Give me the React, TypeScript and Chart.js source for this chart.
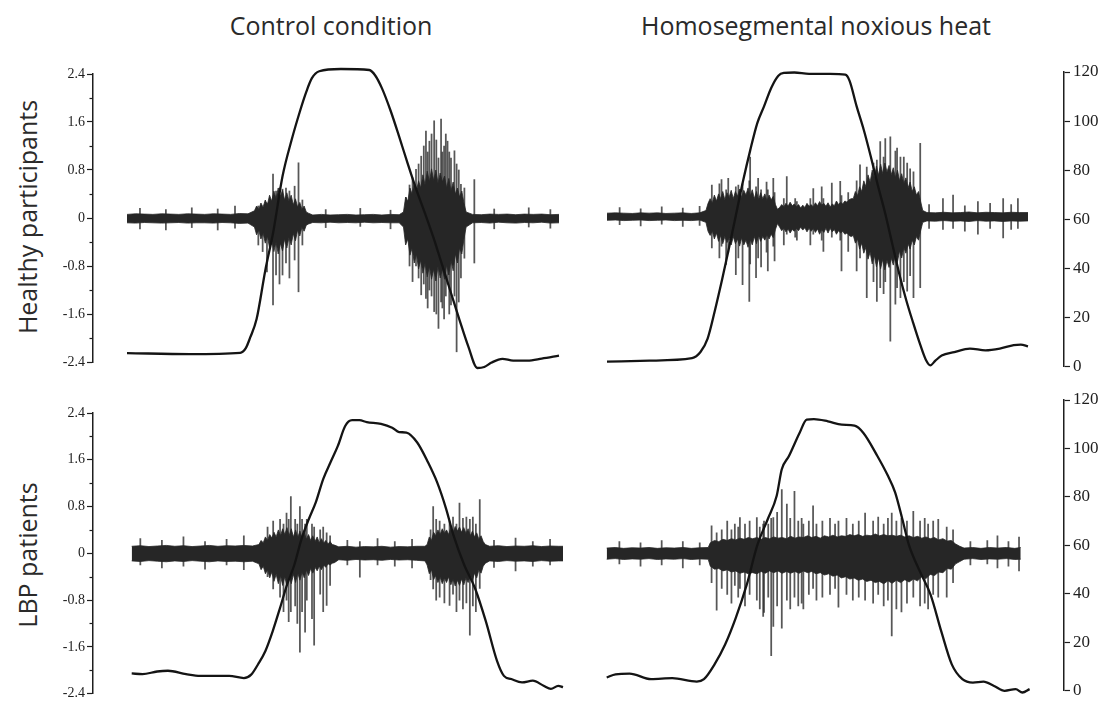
import React, { useEffect, useRef } from "react";
import { Chart, registerables } from "chart.js";

Chart.register(...registerables);

// ---- Axis ticks and captions ----
const EMG_TICKS = [-2.4, -1.6, -0.8, 0, 0.8, 1.6, 2.4];
const EMG_MINOR_TICKS = [-2.0, -1.2, -0.4, 0.4, 1.2, 2.0];
const ANGLE_TICKS = [0, 20, 40, 60, 80, 100, 120];
const COLUMN_TITLES = ["Control condition", "Homosegmental noxious heat"];
const ROW_TITLES = ["Healthy participants", "LBP patients"];

// ---- Healthy participants, control condition ----
const TL_ANGLE_T = [0, 14.5, 26.2, 27.5, 28.5, 30, 32, 33.9, 36, 38.1, 40, 41.5, 42.8, 44.5, 49.5, 56.1, 57.5, 59, 61, 63, 65, 67, 69, 71, 73, 75, 77, 79, 81.1, 82.7, 84.4, 86.9, 89.4, 92.7, 96.0, 100];
const TL_ANGLE = [6.8, 6.4, 6.9, 8.8, 13, 20.5, 40, 56, 78, 92.6, 104, 112, 117.5, 120.3, 121.2, 120.8, 118.5, 113.5, 104.5, 94, 83, 72.5, 63, 53, 42, 31, 20, 9.5, 0.8, 1.2, 3.0, 4.5, 3.8, 3.8, 4.6, 5.8];
const TL_EMG_T = [0, 2, 4, 6, 8, 10, 12, 14, 16, 18, 20, 22, 24, 26, 28,
  29.5, 30, 30.5, 31, 31.5, 32, 32.5, 33, 33.5, 34, 34.5, 35, 35.5, 36, 36.5, 37, 37.5, 38, 38.5, 39, 39.5, 40, 40.5, 41, 41.5, 42,
  43, 45, 47, 49, 51, 53, 55, 57, 59, 61, 63,
  64, 64.5, 65, 65.5, 66, 66.5, 67, 67.5, 68, 68.5, 69, 69.5, 70, 70.5, 71, 71.5, 72, 72.5, 73, 73.5, 74, 74.5, 75, 75.5, 76, 76.5, 77, 77.5, 78, 78.5,
  80, 82, 84, 86, 88, 90, 92, 94, 96, 98, 100];
const TL_EMG_HI = [0.06, 0.07, 0.065, 0.06, 0.07, 0.065, 0.06, 0.07, 0.065, 0.06, 0.07, 0.065, 0.06, 0.075, 0.07,
  0.12, 0.2, 0.14, 0.25, 0.18, 0.3, 0.22, 0.38, 0.28, 0.45, 0.32, 0.5, 0.36, 0.46, 0.3, 0.42, 0.28, 0.38, 0.22, 0.32, 0.18, 0.26, 0.14, 0.2, 0.1, 0.08,
  0.05, 0.06, 0.05, 0.055, 0.06, 0.05, 0.055, 0.06, 0.05, 0.06, 0.055,
  0.1, 0.35, 0.28, 0.5, 0.4, 0.6, 0.45, 0.62, 0.5, 0.72, 0.55, 0.78, 0.6, 0.82, 0.62, 0.8, 0.58, 0.75, 0.6, 0.7, 0.5, 0.66, 0.45, 0.6, 0.4, 0.5, 0.35, 0.45, 0.25, 0.1,
  0.06, 0.055, 0.065, 0.06, 0.065, 0.055, 0.065, 0.06, 0.065, 0.055, 0.06];
const TL_EMG_LO = [-0.08, -0.085, -0.075, -0.08, -0.085, -0.08, -0.075, -0.085, -0.08, -0.08, -0.085, -0.075, -0.08, -0.09, -0.085,
  -0.15, -0.28, -0.2, -0.35, -0.25, -0.42, -0.3, -0.5, -0.36, -0.56, -0.4, -0.6, -0.42, -0.55, -0.35, -0.5, -0.32, -0.45, -0.26, -0.38, -0.2, -0.3, -0.15, -0.22, -0.12, -0.1,
  -0.075, -0.08, -0.07, -0.08, -0.075, -0.08, -0.07, -0.08, -0.075, -0.08, -0.08,
  -0.15, -0.45, -0.35, -0.62, -0.5, -0.75, -0.6, -0.85, -0.7, -0.92, -0.75, -0.98, -0.8, -1.02, -0.85, -1.05, -0.8, -1.0, -0.85, -1.02, -0.78, -0.95, -0.7, -0.88, -0.6, -0.75, -0.5, -0.6, -0.35, -0.15,
  -0.08, -0.075, -0.085, -0.07, -0.08, -0.085, -0.075, -0.08, -0.07, -0.085, -0.08];
const TL_SPIKE_T = [3, 9, 15, 21, 25, 30.4, 31.4, 32.4, 33.8, 34.5, 35.3, 36, 36.8, 37.6, 38.8, 39.7, 40.6, 46, 54, 61, 64.6, 66.1, 66.9, 68.1, 69.2, 70, 71.1, 72.1, 72.7, 73.4, 74.2, 75, 75.8, 76.3, 77.3, 78.1, 80.4, 85, 93, 98, 65.4, 67.5, 68.7, 69.6, 70.5, 71.6, 73.0, 73.8, 74.6, 76.8];
const TL_SPIKE_HI = [0.16, 0.14, 0.17, 0.15, 0.2, 0.2, 0.15, 0.25, 0.73, 0.45, 0.5, 0.48, 0.5, 0.45, 0.53, 0.92, 0.3, 0.14, 0.16, 0.13, 0.34, 0.67, 0.81, 1.03, 1.45, 1.28, 1.62, 1.0, 1.65, 1.2, 1.28, 1.0, 1.12, 0.9, 0.56, 0.5, 0.64, 0.15, 0.17, 0.14, 0.55, 0.9, 1.2, 1.1, 1.4, 1.3, 1.1, 1.4, 1.1, 0.8];
const TL_SPIKE_LO = [-0.18, -0.2, -0.16, -0.2, -0.17, -0.45, -0.56, -0.9, -1.45, -0.95, -1.1, -0.95, -0.75, -1.0, -0.7, -1.23, -0.45, -0.16, -0.14, -0.18, -0.39, -1.06, -0.8, -1.28, -1.34, -1.2, -1.56, -1.84, -1.4, -1.68, -1.1, -1.45, -1.3, -2.23, -1.0, -0.67, -0.75, -0.18, -0.15, -0.17, -0.8, -1.0, -1.1, -1.5, -1.3, -1.6, -1.5, -1.3, -1.6, -1.4];

// ---- Healthy participants, homosegmental noxious heat ----
const TR_ANGLE_T = [0, 10.1, 20.2, 22.2, 23.9, 25.6, 27.3, 28.9, 30.6, 32.3, 34, 35.7, 37.3, 39, 40.7, 42, 44.5, 48, 53, 56.6, 57.6, 59.3, 61, 62.7, 64.3, 66, 67.7, 69.4, 71.1, 72.7, 74.4, 75.7, 76.8, 78, 79.5, 82.5, 86.2, 89.9, 93.3, 96.6, 98.3, 100];
const TR_ANGLE = [2.1, 2.5, 3.5, 6, 11.5, 22.7, 35.2, 47.7, 61.6, 75.5, 88, 99.2, 106, 113.5, 118.5, 119.6, 119.8, 119.2, 119.2, 118.9, 116.5, 106, 96.4, 85.3, 74.1, 63, 50.5, 38, 27, 18, 9, 3, 0.6, 2.5, 4.6, 6, 7.4, 6.7, 7.4, 8.8, 9, 8.3];
const TR_EMG_T = [0, 2, 4, 6, 8, 10, 12, 14, 16, 18, 20, 22,
  23.5, 24, 24.5, 25, 25.5, 26, 26.5, 27, 27.5, 28, 28.5, 29, 29.5, 30, 30.5, 31, 31.5, 32, 32.5, 33, 33.5, 34, 34.5, 35, 35.5, 36, 36.5, 37, 37.5, 38, 38.5, 39, 39.5, 40, 40.5,
  41, 41.5, 42, 42.5, 43, 43.5, 44, 44.5, 45, 45.5, 46, 46.5, 47, 47.5, 48, 48.5, 49, 49.5, 50, 50.5, 51, 51.5, 52, 52.5, 53, 53.5, 54, 54.5, 55, 55.5, 56, 56.5, 57, 57.5, 58,
  58.5, 59, 59.5, 60, 60.5, 61, 61.5, 62, 62.5, 63, 63.5, 64, 64.5, 65, 65.5, 66, 66.5, 67, 67.5, 68, 68.5, 69, 69.5, 70, 70.5, 71, 71.5, 72, 72.5, 73, 73.5, 74, 74.5, 75,
  76, 78, 80, 82, 84, 86, 88, 90, 92, 94, 96, 98, 100];
const TR_EMG_HI = [0.055, 0.06, 0.055, 0.05, 0.06, 0.055, 0.06, 0.05, 0.055, 0.06, 0.05, 0.06,
  0.1, 0.22, 0.3, 0.22, 0.36, 0.26, 0.38, 0.3, 0.42, 0.28, 0.4, 0.32, 0.44, 0.3, 0.42, 0.34, 0.46, 0.32, 0.44, 0.36, 0.48, 0.34, 0.45, 0.3, 0.42, 0.28, 0.4, 0.3, 0.38, 0.26, 0.36, 0.28, 0.34, 0.2, 0.12,
  0.15, 0.2, 0.16, 0.22, 0.17, 0.24, 0.18, 0.21, 0.16, 0.2, 0.14, 0.19, 0.15, 0.22, 0.17, 0.2, 0.16, 0.23, 0.18, 0.25, 0.19, 0.22, 0.17, 0.23, 0.16, 0.21, 0.18, 0.26, 0.2, 0.24, 0.21, 0.26, 0.24, 0.28, 0.3,
  0.3, 0.42, 0.35, 0.5, 0.42, 0.6, 0.5, 0.7, 0.58, 0.78, 0.65, 0.85, 0.7, 0.88, 0.72, 0.9, 0.75, 0.86, 0.7, 0.82, 0.65, 0.78, 0.6, 0.72, 0.55, 0.65, 0.48, 0.58, 0.42, 0.5, 0.36, 0.42, 0.25, 0.1,
  0.065, 0.06, 0.07, 0.06, 0.065, 0.075, 0.06, 0.07, 0.065, 0.06, 0.07, 0.065, 0.065];
const TR_EMG_LO = [-0.065, -0.06, -0.07, -0.065, -0.06, -0.07, -0.065, -0.06, -0.07, -0.065, -0.07, -0.06,
  -0.1, -0.25, -0.32, -0.24, -0.38, -0.28, -0.42, -0.32, -0.46, -0.34, -0.44, -0.36, -0.48, -0.34, -0.46, -0.38, -0.5, -0.36, -0.48, -0.4, -0.52, -0.38, -0.48, -0.34, -0.46, -0.32, -0.42, -0.34, -0.4, -0.3, -0.38, -0.3, -0.36, -0.22, -0.12,
  -0.18, -0.24, -0.2, -0.26, -0.21, -0.28, -0.22, -0.25, -0.2, -0.24, -0.18, -0.23, -0.19, -0.26, -0.2, -0.25, -0.2, -0.27, -0.21, -0.3, -0.22, -0.27, -0.2, -0.28, -0.2, -0.26, -0.22, -0.3, -0.24, -0.28, -0.25, -0.3, -0.28, -0.32, -0.34,
  -0.32, -0.45, -0.38, -0.55, -0.45, -0.62, -0.52, -0.72, -0.6, -0.8, -0.66, -0.85, -0.7, -0.88, -0.72, -0.9, -0.74, -0.86, -0.7, -0.82, -0.64, -0.76, -0.58, -0.7, -0.52, -0.62, -0.46, -0.55, -0.4, -0.48, -0.34, -0.4, -0.24, -0.1,
  -0.075, -0.08, -0.07, -0.08, -0.075, -0.085, -0.07, -0.08, -0.075, -0.085, -0.075, -0.08, -0.075];
const TR_SPIKE_T = [3, 8, 13, 18, 22, 24.9, 26.7, 27.2, 28.3, 28.8, 30.6, 31.2, 32.2, 33.8, 34, 35.4, 35.9, 36.6, 37.9, 38.2, 39.5, 39.8, 42, 42.7, 44.7, 45.1, 48.3, 49, 51, 51.4, 53.4, 55.4, 55.7, 57.3, 59.3, 60.1, 61.7, 63.3, 64.1, 64.9, 65.7, 66.1, 67.3, 68.5, 68.9, 69.7, 70.5, 71.3, 72, 72.8, 74.4, 76.5, 79.8, 82.2, 85, 88.1, 91, 94.1, 96, 97.6];
const TR_SPIKE_HI = [0.15, 0.13, 0.16, 0.14, 0.17, 0.53, 0.55, 0.62, 0.45, 0.64, 0.5, 0.53, 0.55, 0.6, 1.0, 0.5, 0.64, 0.45, 0.58, 0.45, 0.64, 0.4, 0.3, 0.67, 0.3, 0.25, 0.3, 0.47, 0.5, 0.3, 0.56, 0.59, 0.35, 0.4, 0.6, 0.87, 0.83, 0.9, 0.95, 1.26, 1.0, 1.31, 1.34, 1.1, 1.15, 1.0, 1.0, 0.9, 0.8, 0.75, 1.23, 0.2, 0.3, 0.36, 0.18, 0.25, 0.22, 0.3, 0.2, 0.3];
const TR_SPIKE_LO = [-0.14, -0.16, -0.13, -0.17, -0.15, -0.53, -0.7, -0.5, -0.81, -0.6, -0.98, -0.7, -1.15, -1.43, -0.8, -1.03, -0.7, -0.85, -0.6, -0.92, -0.5, -0.75, -0.48, -0.3, -0.35, -0.4, -0.48, -0.3, -0.4, -0.59, -0.35, -0.4, -0.92, -0.59, -0.92, -0.7, -1.37, -1.1, -1.43, -1.2, -1.3, -1.1, -2.1, -1.48, -1.2, -1.37, -1.1, -1.26, -1.0, -1.37, -1.2, -0.2, -0.22, -0.2, -0.25, -0.3, -0.2, -0.36, -0.22, -0.2];

// ---- LBP patients, control condition ----
const BL_ANGLE_T = [0, 2.5, 5.9, 8.4, 12.6, 15.9, 22.6, 26, 27.7, 29.3, 31, 32.7, 34.4, 36, 37.7, 39.4, 41.1, 42.7, 44.4, 46.1, 47.8, 49.5, 51.1, 52.8, 54.5, 57.8, 60.4, 62, 63.7, 66.2, 68.7, 70.8, 72.9, 74.6, 77.1, 79.6, 82.1, 84.7, 86.3, 88, 90.5, 93, 95.5, 97.2, 98.9, 100];
const BL_ANGLE = [7.1, 6.8, 7.9, 8.2, 6.8, 6.1, 6.1, 5.2, 6.6, 10.9, 16.4, 24.6, 34.2, 43.7, 51.9, 62.8, 71, 77.9, 87.4, 94.3, 101.1, 109.3, 111.7, 111.7, 110.9, 110.2, 108.6, 106.8, 106.6, 102.5, 94.3, 86.1, 75.1, 64.2, 51.9, 42.3, 28.7, 12.3, 6.1, 4.8, 3.4, 4.1, 2, 0.7, 2, 1.4];
const BL_EMG_T = [0, 2, 4, 6, 8, 10, 12, 14, 16, 18, 20, 22, 24, 26, 28,
  29.5, 30, 30.5, 31, 31.5, 32, 32.5, 33, 33.5, 34, 34.5, 35, 35.5, 36, 36.5, 37, 37.5, 38, 38.5, 39, 39.5, 40, 40.5, 41, 41.5, 42, 42.5, 43, 43.5, 44, 44.5, 45, 45.5, 46, 46.5, 47,
  48, 50, 52, 54, 56, 58, 60, 62, 64, 66, 68,
  68.5, 69, 69.5, 70, 70.5, 71, 71.5, 72, 72.5, 73, 73.5, 74, 74.5, 75, 75.5, 76, 76.5, 77, 77.5, 78, 78.5, 79, 79.5, 80, 80.5, 81, 81.5, 82,
  83, 85, 87, 89, 91, 93, 95, 97, 99, 100];
const BL_EMG_HI = [0.12, 0.13, 0.115, 0.125, 0.135, 0.12, 0.13, 0.115, 0.125, 0.135, 0.12, 0.13, 0.125, 0.135, 0.125,
  0.15, 0.22, 0.18, 0.28, 0.22, 0.32, 0.26, 0.36, 0.28, 0.4, 0.3, 0.42, 0.32, 0.44, 0.3, 0.42, 0.28, 0.4, 0.27, 0.38, 0.25, 0.35, 0.24, 0.32, 0.22, 0.3, 0.2, 0.28, 0.18, 0.25, 0.17, 0.22, 0.16, 0.2, 0.15, 0.14,
  0.11, 0.12, 0.105, 0.115, 0.11, 0.12, 0.105, 0.115, 0.11, 0.12, 0.12,
  0.15, 0.28, 0.22, 0.36, 0.3, 0.4, 0.32, 0.42, 0.34, 0.4, 0.32, 0.44, 0.36, 0.46, 0.38, 0.45, 0.36, 0.44, 0.34, 0.42, 0.3, 0.38, 0.28, 0.35, 0.24, 0.3, 0.2, 0.15,
  0.12, 0.13, 0.115, 0.125, 0.12, 0.13, 0.115, 0.125, 0.12, 0.12];
const BL_EMG_LO = [-0.13, -0.14, -0.125, -0.135, -0.145, -0.13, -0.14, -0.125, -0.135, -0.145, -0.13, -0.14, -0.135, -0.145, -0.135,
  -0.18, -0.28, -0.22, -0.35, -0.28, -0.42, -0.32, -0.48, -0.36, -0.52, -0.38, -0.55, -0.4, -0.56, -0.38, -0.52, -0.36, -0.5, -0.34, -0.46, -0.32, -0.42, -0.28, -0.38, -0.26, -0.34, -0.24, -0.3, -0.22, -0.28, -0.2, -0.24, -0.18, -0.2, -0.17, -0.16,
  -0.11, -0.12, -0.105, -0.115, -0.11, -0.12, -0.105, -0.115, -0.11, -0.12, -0.13,
  -0.2, -0.35, -0.28, -0.45, -0.38, -0.5, -0.4, -0.52, -0.42, -0.5, -0.4, -0.54, -0.44, -0.56, -0.46, -0.55, -0.44, -0.54, -0.42, -0.5, -0.38, -0.46, -0.34, -0.42, -0.28, -0.34, -0.22, -0.17,
  -0.13, -0.14, -0.125, -0.135, -0.13, -0.14, -0.125, -0.135, -0.13, -0.13];
const BL_SPIKE_T = [2, 7, 12, 17, 22, 26, 31.5, 32.8, 34.4, 35.2, 35.9, 36.4, 36.9, 37.9, 38.4, 39, 39.5, 40.2, 40.6, 41.8, 42.3, 43.7, 44.4, 45.2, 46, 50, 52.9, 57, 61, 65, 69.3, 69.9, 70.6, 71.4, 72.5, 73.7, 74.5, 75.3, 76, 76.8, 77.6, 78.4, 79.1, 79.8, 80.7, 84, 89, 93, 97];
const BL_SPIKE_HI = [0.25, 0.22, 0.28, 0.2, 0.24, 0.3, 0.45, 0.55, 0.58, 0.5, 0.69, 0.58, 0.97, 0.58, 0.5, 0.8, 0.58, 0.5, 0.58, 0.5, 0.45, 0.4, 0.45, 0.35, 0.3, 0.22, 0.2, 0.25, 0.2, 0.24, 0.4, 0.8, 0.58, 0.55, 0.5, 0.55, 0.62, 0.5, 0.86, 0.6, 0.62, 0.58, 0.62, 0.5, 0.92, 0.22, 0.26, 0.2, 0.24];
const BL_SPIKE_LO = [-0.2, -0.25, -0.22, -0.27, -0.2, -0.28, -0.4, -0.61, -0.75, -1.0, -0.8, -1.17, -1.0, -0.9, -1.2, -1.69, -1.0, -1.35, -0.8, -1.12, -1.57, -0.7, -1.0, -0.89, -0.55, -0.2, -0.41, -0.2, -0.22, -0.25, -0.45, -0.61, -0.8, -0.75, -0.85, -0.89, -0.7, -1.0, -0.8, -0.95, -0.85, -1.4, -0.9, -1.0, -0.6, -0.24, -0.3, -0.22, -0.2];

// ---- LBP patients, homosegmental noxious heat ----
const BR_ANGLE_T = [0, 2.1, 5.4, 10.5, 15.5, 21.3, 23, 25.5, 28, 30.5, 33.1, 35.6, 38.1, 40.2, 41.4, 43.1, 45.6, 47.3, 49, 52.3, 55.6, 58.6, 60.7, 64, 66.5, 68.2, 69.9, 71.5, 74.1, 76.6, 79.1, 81.6, 84.1, 86.6, 89.1, 91.6, 94.1, 96.7, 98.3, 100];
const BR_ANGLE = [5.5, 6.8, 7.1, 4.8, 5.2, 3.8, 4.8, 10.9, 19.1, 30, 43.7, 60, 70.9, 80.5, 91.4, 96.9, 106.4, 111.9, 112.1, 111.2, 109.8, 109.4, 106.4, 96.9, 88.7, 81.9, 70.9, 60, 49.1, 39.6, 24.6, 10.9, 4.8, 3.4, 3.8, 2, 0, 0.7, -0.7, 0.7];
const BR_EMG_T = [0, 2, 4, 6, 8, 10, 12, 14, 16, 18, 20, 22, 24,
  24.5, 25.5, 26.5, 27.5, 28.5, 29.5, 30.5, 31.5, 32.5, 33.5, 34.5, 35.5, 36.5, 37.5, 38.5, 39.5, 40.5, 41.5, 42.5, 43.5, 44.5, 45.5, 46.5, 47.5, 48.5, 49.5, 50.5, 51.5, 52.5, 53.5,
  54.5, 55.5, 56.5, 57.5, 58.5, 59.5, 60.5, 61.5, 62.5, 63.5, 64.5, 65.5, 66.5, 67.5, 68.5, 69.5, 70.5, 71.5, 72.5, 73.5, 74.5, 75.5, 76.5, 77.5, 78.5, 79.5, 80.5, 81.5, 82.5, 83.5,
  84.5, 86.5, 88.5, 90.5, 92.5, 94.5, 96.5, 97.9];
const BR_EMG_HI = [0.09, 0.1, 0.085, 0.095, 0.09, 0.1, 0.085, 0.095, 0.09, 0.1, 0.085, 0.095, 0.1,
  0.18, 0.22, 0.2, 0.24, 0.22, 0.25, 0.23, 0.26, 0.24, 0.27, 0.25, 0.27, 0.24, 0.27, 0.25, 0.28, 0.26, 0.27, 0.25, 0.29, 0.26, 0.28, 0.27, 0.3, 0.27, 0.29, 0.26, 0.3, 0.28, 0.31,
  0.28, 0.3, 0.29, 0.32, 0.3, 0.32, 0.29, 0.31, 0.3, 0.33, 0.3, 0.32, 0.3, 0.31, 0.29, 0.31, 0.28, 0.3, 0.27, 0.29, 0.26, 0.28, 0.25, 0.27, 0.23, 0.25, 0.21, 0.22, 0.16, 0.12,
  0.09, 0.1, 0.085, 0.1, 0.09, 0.1, 0.085, 0.1];
const BR_EMG_LO = [-0.1, -0.09, -0.105, -0.095, -0.1, -0.09, -0.105, -0.095, -0.1, -0.09, -0.105, -0.095, -0.1,
  -0.22, -0.27, -0.26, -0.3, -0.28, -0.32, -0.3, -0.34, -0.32, -0.35, -0.33, -0.35, -0.31, -0.34, -0.3, -0.33, -0.3, -0.34, -0.31, -0.34, -0.31, -0.34, -0.3, -0.33, -0.31, -0.35, -0.33, -0.37, -0.35, -0.39,
  -0.37, -0.42, -0.4, -0.44, -0.42, -0.46, -0.44, -0.48, -0.46, -0.5, -0.48, -0.52, -0.47, -0.51, -0.46, -0.5, -0.45, -0.49, -0.44, -0.47, -0.4, -0.43, -0.36, -0.38, -0.32, -0.33, -0.26, -0.27, -0.18, -0.14,
  -0.1, -0.09, -0.105, -0.095, -0.1, -0.09, -0.105, -0.1];
const BR_SPIKE_T = [3, 8, 13, 18, 22, 24.8, 26, 27.2, 28.5, 29.5, 30.3, 31.1, 31.5, 32.7, 33.8, 35.5, 36.2, 37, 37.2, 38.2, 38.9, 39.4, 40.3, 41.4, 42.6, 43.4, 44.4, 45.3, 46.1, 46.5, 47.8, 48.8, 49.6, 51, 52.8, 54, 54.8, 56.7, 58.2, 59.6, 61.1, 63, 64.2, 65.5, 66.5, 67.4, 68.5, 69.7, 71, 72.5, 74.1, 75.2, 76, 77.2, 78.4, 80.4, 81.9, 86, 90, 92.4, 95, 97.5];
const BR_SPIKE_HI = [0.2, 0.18, 0.22, 0.2, 0.18, 0.47, 0.35, 0.4, 0.55, 0.4, 0.5, 0.45, 0.61, 0.5, 0.55, 0.61, 0.45, 0.5, 0.55, 0.5, 0.6, 0.61, 0.7, 1.09, 0.84, 0.6, 1.06, 0.55, 0.6, 0.5, 0.55, 0.81, 0.5, 0.55, 0.6, 0.5, 0.55, 0.6, 0.5, 0.55, 0.69, 0.55, 0.62, 0.5, 0.6, 0.69, 0.55, 0.6, 0.55, 0.72, 0.55, 0.6, 0.5, 0.55, 0.58, 0.45, 0.4, 0.2, 0.22, 0.3, 0.2, 0.28];
const BR_SPIKE_LO = [-0.18, -0.22, -0.2, -0.25, -0.2, -0.5, -0.97, -0.6, -0.7, -0.85, -0.55, -0.75, -0.6, -0.9, -0.7, -0.8, -0.95, -1.08, -1.01, -0.75, -1.75, -1.25, -0.9, -1.28, -0.8, -0.95, -0.75, -0.9, -0.85, -0.95, -0.7, -0.6, -0.8, -0.75, -0.7, -0.6, -0.92, -0.7, -0.8, -0.75, -0.8, -0.85, -0.7, -0.9, -0.8, -1.41, -0.95, -1.0, -0.85, -0.75, -0.9, -0.85, -0.95, -0.7, -0.75, -0.75, -0.5, -0.2, -0.18, -0.25, -0.22, -0.3];

// ---- Styling ----
const INK = "#1e1e1e";
const CURVE_COLOR = "#141414";
const CORE_COLOR = "#262626";
const SPIKE_COLOR = "rgba(45,45,45,0.8)";
const TICK_FONT = '"Liberation Serif", "Times New Roman", serif';
const LABEL_FONT = '"Open Sans", "Noto Sans", sans-serif';

type Box = { left: number; top: number; width: number; height: number };
type Area = { left: number; right: number; top: number; bottom: number };
type Ref = [number, number, number, number]; // value0, pixel0, value1, pixel1

type PanelSpec = {
  id: string;
  box: Box;
  area: Area;
  timeRef: Ref;
  emgRef: Ref;
  angleRef: Ref;
  showEmgAxis: boolean;
  showAngleAxis: boolean;
  angleT: number[];
  angle: number[];
  emgT: number[];
  emgHi: number[];
  emgLo: number[];
  spikeT: number[];
  spikeHi: number[];
  spikeLo: number[];
};

const PANELS: PanelSpec[] = [
  {
    id: "healthy-control",
    box: { left: 0, top: 40, width: 575, height: 340 },
    area: { left: 93, right: 575, top: 74, bottom: 362 },
    timeRef: [0, 127, 100, 559],
    emgRef: [2.4, 74, -2.4, 362],
    angleRef: [120, 72, 0, 370],
    showEmgAxis: true,
    showAngleAxis: false,
    angleT: TL_ANGLE_T, angle: TL_ANGLE,
    emgT: TL_EMG_T, emgHi: TL_EMG_HI, emgLo: TL_EMG_LO,
    spikeT: TL_SPIKE_T, spikeHi: TL_SPIKE_HI, spikeLo: TL_SPIKE_LO,
  },
  {
    id: "healthy-heat",
    box: { left: 590, top: 40, width: 524, height: 340 },
    area: { left: 590, right: 1064, top: 72, bottom: 370 },
    timeRef: [0, 607, 100, 1028],
    emgRef: [2.4, 74, -2.4, 362],
    angleRef: [120, 72, 0, 370],
    showEmgAxis: false,
    showAngleAxis: true,
    angleT: TR_ANGLE_T, angle: TR_ANGLE,
    emgT: TR_EMG_T, emgHi: TR_EMG_HI, emgLo: TR_EMG_LO,
    spikeT: TR_SPIKE_T, spikeHi: TR_SPIKE_HI, spikeLo: TR_SPIKE_LO,
  },
  {
    id: "lbp-control",
    box: { left: 0, top: 385, width: 575, height: 319 },
    area: { left: 93, right: 575, top: 413, bottom: 696 },
    timeRef: [0, 131.7, 100, 563],
    emgRef: [2.4, 413, -2.4, 696],
    angleRef: [120, 400, 0, 693],
    showEmgAxis: true,
    showAngleAxis: false,
    angleT: BL_ANGLE_T, angle: BL_ANGLE,
    emgT: BL_EMG_T, emgHi: BL_EMG_HI, emgLo: BL_EMG_LO,
    spikeT: BL_SPIKE_T, spikeHi: BL_SPIKE_HI, spikeLo: BL_SPIKE_LO,
  },
  {
    id: "lbp-heat",
    box: { left: 590, top: 385, width: 524, height: 319 },
    area: { left: 590, right: 1064, top: 400, bottom: 693 },
    timeRef: [0, 606.7, 100, 1029.6],
    emgRef: [2.4, 413, -2.4, 696],
    angleRef: [120, 400, 0, 693],
    showEmgAxis: false,
    showAngleAxis: true,
    angleT: BR_ANGLE_T, angle: BR_ANGLE,
    emgT: BR_EMG_T, emgHi: BR_EMG_HI, emgLo: BR_EMG_LO,
    spikeT: BR_SPIKE_T, spikeHi: BR_SPIKE_HI, spikeLo: BR_SPIKE_LO,
  },
];

// Values found at two pixel positions, given two (value, pixel) anchors of a linear axis.
function valuesAt(ref: Ref, pa: number, pb: number): [number, number] {
  const [v0, p0, v1, p1] = ref;
  const k = (v1 - v0) / (p1 - p0);
  return [v0 + (pa - p0) * k, v0 + (pb - p0) * k];
}

// Short unlabeled ticks between the labelled EMG ticks.
const minorTickPlugin = {
  id: "minorTicks",
  afterDraw(chart: any) {
    const s = chart.scales.y;
    if (!s || !s.options.display) return;
    const ctx = chart.ctx;
    ctx.save();
    ctx.strokeStyle = INK;
    ctx.lineWidth = 1.2;
    EMG_MINOR_TICKS.forEach((v) => {
      const y = Math.round(s.getPixelForValue(v)) + 0.5;
      ctx.beginPath();
      ctx.moveTo(s.right - 3.5, y);
      ctx.lineTo(s.right, y);
      ctx.stroke();
    });
    ctx.restore();
  },
};

function buildConfig(p: PanelSpec): any {
  const { box, area } = p;
  const [xMin, xMax] = valuesAt(p.timeRef, area.left, area.right);
  const [emgMax, emgMin] = valuesAt(p.emgRef, area.top, area.bottom);
  const [angMax, angMin] = valuesAt(p.angleRef, area.top, area.bottom);
  const emgAxisW = area.left - box.left;
  const angleAxisW = box.left + box.width - area.right;

  return {
    type: "line",
    data: {
      datasets: [
        {
          type: "line",
          label: "EMG upper",
          data: p.emgT.map((t, i) => ({ x: t, y: p.emgHi[i] })),
          borderColor: CORE_COLOR,
          backgroundColor: CORE_COLOR,
          borderWidth: 0.8,
          pointRadius: 0,
          tension: 0,
          fill: "+1",
          yAxisID: "y",
          order: 1,
        },
        {
          type: "line",
          label: "EMG lower",
          data: p.emgT.map((t, i) => ({ x: t, y: p.emgLo[i] })),
          borderColor: CORE_COLOR,
          borderWidth: 0.8,
          pointRadius: 0,
          tension: 0,
          fill: false,
          yAxisID: "y",
          order: 1,
        },
        {
          type: "bar",
          label: "EMG spikes",
          data: p.spikeT.map((t, i) => ({ x: t, y: [p.spikeLo[i], p.spikeHi[i]] })),
          backgroundColor: SPIKE_COLOR,
          borderWidth: 0,
          barThickness: 1.1,
          grouped: false,
          yAxisID: "y",
          order: 2,
        },
        {
          type: "line",
          label: "Trunk angle",
          data: p.angleT.map((t, i) => ({ x: t, y: p.angle[i] })),
          borderColor: CURVE_COLOR,
          borderWidth: 2.3,
          pointRadius: 0,
          cubicInterpolationMode: "monotone",
          fill: false,
          clip: false,
          yAxisID: "y2",
          order: 0,
        },
      ],
    },
    options: {
      responsive: false,
      animation: false,
      devicePixelRatio: 1,
      events: [],
      layout: {
        padding: {
          left: p.showEmgAxis ? 0 : area.left - box.left,
          right: p.showAngleAxis ? 0 : box.left + box.width - area.right,
          top: area.top - box.top,
          bottom: box.top + box.height - area.bottom,
        },
      },
      plugins: { legend: { display: false }, tooltip: { enabled: false }, title: { display: false } },
      scales: {
        x: { type: "linear", display: false, min: xMin, max: xMax, offset: false },
        y: {
          type: "linear",
          position: "left",
          display: p.showEmgAxis,
          min: emgMin,
          max: emgMax,
          afterFit: (s: any) => { s.width = emgAxisW; },
          afterBuildTicks: (s: any) => { s.ticks = EMG_TICKS.map((value) => ({ value })); },
          ticks: {
            callback: (v: any) => (Number(v) === 0 ? "0" : Number(v).toFixed(1)),
            font: { family: TICK_FONT, size: 14 },
            color: INK,
            padding: 2,
          },
          grid: { drawOnChartArea: false, drawTicks: true, tickLength: 6, tickColor: INK, tickWidth: 1.2 },
          border: { display: true, color: INK, width: 1.5 },
        },
        y2: {
          type: "linear",
          position: "right",
          display: p.showAngleAxis,
          min: angMin,
          max: angMax,
          afterFit: (s: any) => { s.width = angleAxisW; },
          afterBuildTicks: (s: any) => { s.ticks = ANGLE_TICKS.map((value) => ({ value })); },
          ticks: {
            callback: (v: any) => String(v),
            font: { family: TICK_FONT, size: 17 },
            color: INK,
            padding: 3,
          },
          grid: { drawOnChartArea: false, drawTicks: true, tickLength: 6, tickColor: INK, tickWidth: 1.2 },
          border: { display: true, color: INK, width: 1.5 },
        },
      },
    },
    plugins: [minorTickPlugin],
  };
}

function Panel({ spec }: { spec: PanelSpec }) {
  const ref = useRef<HTMLCanvasElement | null>(null);
  useEffect(() => {
    const canvas = ref.current;
    if (!canvas) return;
    const chart = new Chart(canvas, buildConfig(spec));
    return () => chart.destroy();
  }, [spec]);
  return (
    <canvas
      ref={ref}
      width={spec.box.width}
      height={spec.box.height}
      style={{ position: "absolute", left: spec.box.left, top: spec.box.top, width: spec.box.width, height: spec.box.height }}
    />
  );
}

const captionStyle: React.CSSProperties = {
  position: "absolute",
  fontFamily: LABEL_FONT,
  fontSize: 25,
  color: "#2a2a2a",
  whiteSpace: "nowrap",
  lineHeight: 1,
};

export default function App() {
  return (
    <div style={{ position: "absolute", left: 0, top: 0, width: 1114, height: 704, background: "#fff", overflow: "hidden" }}>
      <div style={{ ...captionStyle, left: 331, top: 25, transform: "translate(-50%, -50%)" }}>{COLUMN_TITLES[0]}</div>
      <div style={{ ...captionStyle, left: 816, top: 25, transform: "translate(-50%, -50%)" }}>{COLUMN_TITLES[1]}</div>
      <div style={{ ...captionStyle, left: 27, top: 217, transform: "translate(-50%, -50%) rotate(-90deg)" }}>{ROW_TITLES[0]}</div>
      <div style={{ ...captionStyle, left: 27, top: 555, transform: "translate(-50%, -50%) rotate(-90deg)" }}>{ROW_TITLES[1]}</div>
      {PANELS.map((p) => (
        <Panel key={p.id} spec={p} />
      ))}
    </div>
  );
}
